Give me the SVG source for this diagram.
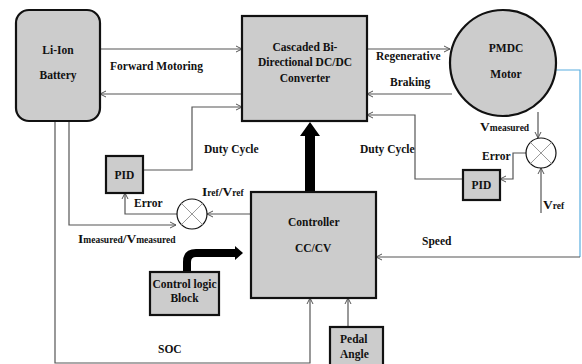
<svg xmlns="http://www.w3.org/2000/svg" width="582" height="364" viewBox="0 0 582 364">
<style>
.box{fill:#cccccc;stroke:#111;stroke-width:2.2}
.ln{fill:none;stroke:#555;stroke-width:1.2}
.t{font-family:"Liberation Serif","Times New Roman",serif;font-weight:bold;font-size:11.5px;fill:#111}
.tb{font-size:13.5px}
.ts{font-size:9.5px}
.sum{fill:#fff;stroke:#111;stroke-width:1.2}
.x{stroke:#999;stroke-width:1}
</style>
<defs>
<marker id="ah" markerWidth="8" markerHeight="8" refX="7" refY="4" orient="auto" markerUnits="userSpaceOnUse">
<polyline points="1,1 7,4 1,7" fill="none" stroke="#555" stroke-width="1"/>
</marker>
</defs>
<rect width="582" height="364" fill="#fff"/>
<g id="connectors">
<line class="ln" x1="100" y1="49" x2="242" y2="49" marker-end="url(#ah)"/>
<line class="ln" x1="242" y1="94" x2="100" y2="94" marker-end="url(#ah)"/>
<polyline class="ln" points="143,170 192,170 192,107 242,107" marker-end="url(#ah)"/>
<line class="ln" x1="367" y1="49" x2="450" y2="49" marker-end="url(#ah)"/>
<line class="ln" x1="452" y1="94" x2="367" y2="94" marker-end="url(#ah)"/>
<polyline points="556,70 580,70 580,257" fill="none" stroke="#5aaee0" stroke-width="1.2"/>
<polyline class="ln" points="580,257 376,257" marker-end="url(#ah)"/>
<line class="ln" x1="538" y1="112" x2="538" y2="138" marker-end="url(#ah)"/>
<polyline class="ln" points="527,153 513,153 513,179 500,179" marker-end="url(#ah)"/>
<polyline class="ln" points="463,179 415,179 415,115 367,115" marker-end="url(#ah)"/>
<line class="ln" x1="541" y1="213" x2="541" y2="168" marker-end="url(#ah)"/>
<line class="ln" x1="251" y1="214" x2="207" y2="214" marker-end="url(#ah)"/>
<polyline class="ln" points="177,214 125,214 125,193" marker-end="url(#ah)"/>
<polyline class="ln" points="69,121 69,225 176,225" marker-end="url(#ah)"/>
<polyline class="ln" points="55,121 55,363 310,363 310,298" marker-end="url(#ah)"/>
<line class="ln" x1="348" y1="327" x2="348" y2="298" marker-end="url(#ah)"/>
<polygon points="305,192 305,136 300,136 310,122 320,136 315,136 315,192" fill="#000"/>
<path d="M187,272 L187,262 Q187,253 196,253 L236,253" fill="none" stroke="#000" stroke-width="8"/>
<polygon points="235,246 243,253 235,260" fill="#000"/>
</g>
<g id="battery">
<rect class="box" x="16" y="10" width="84" height="111" rx="13"/>
<text class="t" x="58" y="54" text-anchor="middle">Li-Ion</text>
<text class="t" x="58" y="79" text-anchor="middle">Battery</text>
</g>
<g id="converter">
<rect class="box" x="242" y="16" width="125" height="105"/>
<text class="t" x="305" y="51" text-anchor="middle">Cascaded Bi-</text>
<text class="t" x="305" y="66" text-anchor="middle">Directional DC/DC</text>
<text class="t" x="305" y="82" text-anchor="middle">Converter</text>
</g>
<g id="motor">
<circle cx="503" cy="63" r="53" fill="#cccccc" stroke="#111" stroke-width="2.2"/>
<text class="t" x="506" y="52" text-anchor="middle">PMDC</text>
<text class="t" x="506" y="78" text-anchor="middle">Motor</text>
</g>
<g id="sum-right">
<circle class="sum" cx="541" cy="153" r="15"/>
<line class="x" x1="530.4" y1="142.4" x2="551.6" y2="163.6"/>
<line class="x" x1="551.6" y1="142.4" x2="530.4" y2="163.6"/>
</g>
<g id="pid-right">
<rect class="box" x="463" y="170" width="37" height="30"/>
<text class="t" x="481.5" y="189" text-anchor="middle">PID</text>
</g>
<g id="pid-left">
<rect class="box" x="106" y="156" width="37" height="37"/>
<text class="t" x="124.5" y="179" text-anchor="middle">PID</text>
</g>
<g id="sum-left">
<circle class="sum" cx="192" cy="214" r="15"/>
<line class="x" x1="181.4" y1="203.4" x2="202.6" y2="224.6"/>
<line class="x" x1="202.6" y1="203.4" x2="181.4" y2="224.6"/>
</g>
<g id="controller">
<rect class="box" x="251" y="192" width="125" height="106"/>
<text class="t" x="288" y="226">Controller</text>
<text class="t" x="295" y="252">CC/CV</text>
</g>
<g id="control-logic">
<rect class="box" x="150" y="272" width="69" height="43"/>
<text class="t" x="184.5" y="288" text-anchor="middle">Control logic</text>
<text class="t" x="184.5" y="302" text-anchor="middle">Block</text>
</g>
<g id="pedal">
<rect class="box" x="330" y="327" width="53" height="40"/>
<text class="t" x="340" y="343">Pedal</text>
<text class="t" x="340" y="358">Angle</text>
</g>
<g id="labels">
<text class="t" x="110" y="70">Forward Motoring</text>
<text class="t" x="376" y="60">Regenerative</text>
<text class="t" x="390" y="86">Braking</text>
<text class="t" x="204" y="153">Duty Cycle</text>
<text class="t" x="360" y="153">Duty Cycle</text>
<text class="t" x="480" y="131"><tspan class="tb">V</tspan><tspan class="ts">measured</tspan></text>
<text class="t" x="482" y="160">Error</text>
<text class="t" x="543" y="209"><tspan class="tb">V</tspan><tspan class="ts">ref</tspan></text>
<text class="t" x="134" y="207">Error</text>
<text class="t" x="202" y="196"><tspan class="tb">I</tspan><tspan class="ts">ref</tspan><tspan class="tb">/V</tspan><tspan class="ts">ref</tspan></text>
<text class="t" x="78" y="243"><tspan class="tb">I</tspan><tspan class="ts">measured</tspan><tspan class="tb">/V</tspan><tspan class="ts">measured</tspan></text>
<text class="t" x="422" y="245">Speed</text>
<text class="t" x="158" y="353">SOC</text>
</g>
</svg>
